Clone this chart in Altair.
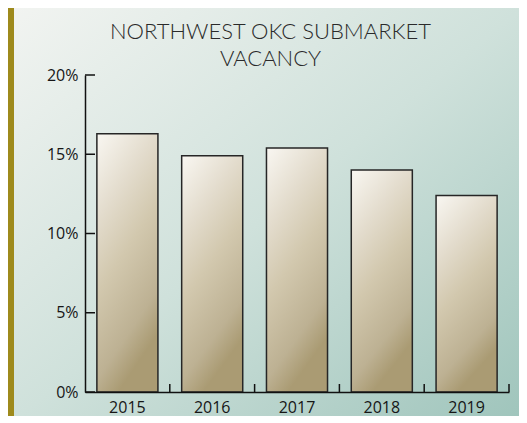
import altair as alt
import pandas as pd

years = ["2015", "2016", "2017", "2018", "2019"]
vacancy = [16.3, 14.9, 15.4, 14.0, 12.4]
y_ticks = [0, 5, 10, 15, 20]
title_lines = ["NORTHWEST OKC SUBMARKET", "VACANCY"]

W, H = 424, 317
PAD_L, PAD_T, PAD_R, PAD_B = 77, 67, 10, 24

bars_df = pd.DataFrame({"year": years, "vacancy": vacancy})
yt_df = pd.DataFrame({"tick": y_ticks})

x_scale = alt.Scale(domain=years, paddingInner=0, paddingOuter=0)
y_scale = alt.Scale(domain=[0, 20], nice=False)

x_axis = alt.Axis(ticks=False, labelPadding=7, labelAngle=0, zindex=2)
y_axis = alt.Axis(values=y_ticks, ticks=False, labelPadding=7, zindex=2,
                  labelExpr="datum.value + '%'")

panel_fill = alt.LinearGradient(
    gradient="linear", x1=0, y1=0, x2=1, y2=1,
    stops=[alt.GradientStop(color="#f2f4f1", offset=0),
           alt.GradientStop(color="#cfe1db", offset=0.5),
           alt.GradientStop(color="#9ec4bb", offset=1)])

bar_fill = alt.LinearGradient(
    gradient="linear", x1=0, y1=0, x2=0.35, y2=1,
    stops=[alt.GradientStop(color="#f9f7f2", offset=0),
           alt.GradientStop(color="#e3dccd", offset=0.3),
           alt.GradientStop(color="#d2c8ae", offset=0.55),
           alt.GradientStop(color="#bdb193", offset=0.85),
           alt.GradientStop(color="#aa9b73", offset=1)])

panel = alt.Chart(alt.Data(values=[{"p": 1}])).mark_rect(fill=panel_fill).encode(
    x=alt.value(-(PAD_L - 6)), x2=alt.value(W + PAD_R + 10),
    y=alt.value(-PAD_T - 5), y2=alt.value(H + PAD_B + 5))

bars = alt.Chart(bars_df).mark_bar(
    fill=bar_fill, stroke="#262626", strokeWidth=1.5,
    width=alt.RelativeBandSize(0.72)).encode(
    x=alt.X("year:N", scale=x_scale, title=None, axis=x_axis),
    y=alt.Y("vacancy:Q", scale=y_scale, title=None, axis=y_axis))

ytick = alt.Chart(yt_df).mark_rule(color="#111111", strokeWidth=1.5).encode(
    y=alt.Y("tick:Q", scale=y_scale, title=None, axis=y_axis),
    x=alt.value(0), x2=alt.value(10))

xtick = alt.Chart(bars_df).mark_rule(color="#111111", strokeWidth=1.5).encode(
    x=alt.X("year:N", scale=x_scale, bandPosition=1, title=None, axis=x_axis),
    y=alt.value(H - 8), y2=alt.value(H))

chart = alt.layer(panel, bars, ytick, xtick).properties(
    width=W, height=H,
    autosize=alt.AutoSizeParams(type="none"),
    padding={"left": PAD_L, "top": PAD_T, "right": PAD_R, "bottom": PAD_B},
    background="#9e8a1c",
    title=alt.TitleParams(text=title_lines, font="Lato", fontSize=22,
                          fontWeight=300, color="#2a2a2a", anchor="middle",
                          frame="group", dx=-26.5, dy=68, lineHeight=27,
                          offset=0),
).configure_view(stroke=None).configure_axis(
    domainColor="#111111", domainWidth=1.5, grid=False,
    labelFont="Open Sans", labelFontSize=16, labelColor="#161616")

chart.save("out.html", embed_options={"renderer": "svg", "actions": False})
